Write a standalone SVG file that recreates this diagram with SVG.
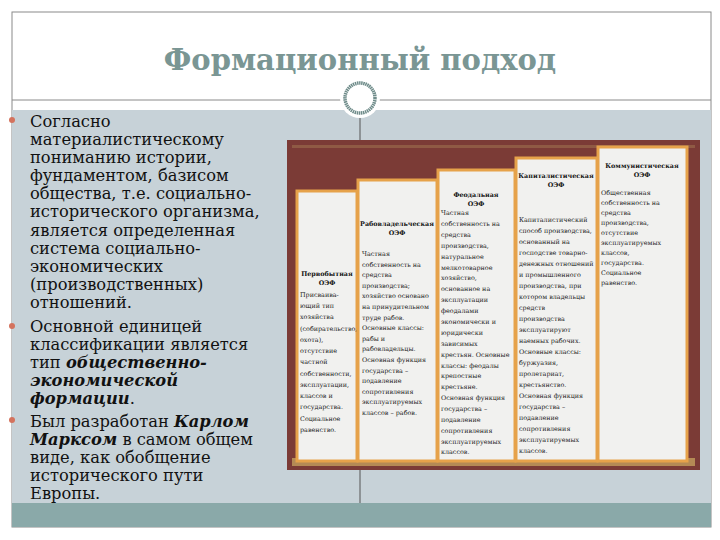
<svg xmlns="http://www.w3.org/2000/svg" width="720" height="540" viewBox="0 0 720 540">
<style>
.lt{font-family:"DejaVu Serif",serif;font-size:16.3px;fill:#111}
.bi{font-weight:bold;font-style:italic}
.ct{font-family:"DejaVu Serif",serif;font-size:6.4px;fill:#222}
.ch{font-family:"DejaVu Serif",serif;font-size:6.4px;fill:#111;font-weight:bold;text-anchor:middle}
.col{fill:#f1f1ef;stroke:#e6a24a;stroke-width:3}
.bul{fill:#d4735e}
</style>
<rect width="720" height="540" fill="#fff"/>
<g id="frame">
<rect x="12" y="12" width="699" height="515" fill="none" stroke="#8a8a8a" stroke-width="1"/>
<rect x="12" y="110" width="699" height="393" fill="#c7d2d8"/>
<rect x="12" y="503" width="699" height="24" fill="#8aa9a9"/>
<line x1="12" y1="100" x2="711" y2="100" stroke="#8a8a8a" stroke-width="1"/>
<line x1="360" y1="110" x2="360" y2="503" stroke="#555" stroke-width="1"/>
<circle cx="360" cy="98" r="20" fill="#fff"/>
<circle cx="360" cy="98" r="15" fill="#fff" stroke="#6f8c8a" stroke-width="3.5" stroke-dasharray="1.5 0.6"/>
</g>
<g id="title"><text x="360" y="70" text-anchor="middle" font-family="DejaVu Serif,serif" font-size="29" font-weight="bold" fill="#7a9694">Формационный подход</text></g>
<g id="bullets">
<circle class="bul" cx="12" cy="120" r="3"/><circle class="bul" cx="12" cy="326" r="3"/><circle class="bul" cx="12" cy="420" r="3"/>
<text class="lt" x="30"><tspan x="30" y="127">Согласно</tspan><tspan x="30" y="145">материалистическому</tspan><tspan x="30" y="163">пониманию истории,</tspan><tspan x="30" y="181">фундаментом, базисом</tspan><tspan x="30" y="199">общества, т.е. социально-</tspan><tspan x="30" y="217">исторического организма,</tspan><tspan x="30" y="236">является определенная</tspan><tspan x="30" y="254">система социально-</tspan><tspan x="30" y="272">экономических</tspan><tspan x="30" y="290">(производственных)</tspan><tspan x="30" y="308">отношений.</tspan>
<tspan x="30" y="332">Основной единицей</tspan><tspan x="30" y="350">классификации является</tspan><tspan x="30" y="368">тип <tspan class="bi">общественно-</tspan></tspan><tspan x="30" y="386" class="bi">экономической</tspan><tspan x="30" y="404"><tspan class="bi">формации</tspan>.</tspan>
<tspan x="30" y="427">Был разработан <tspan class="bi">Карлом</tspan></tspan><tspan x="30" y="445"><tspan class="bi">Марксом</tspan> в самом общем</tspan><tspan x="30" y="463">виде, как обобщение</tspan><tspan x="30" y="481">исторического пути</tspan><tspan x="30" y="499">Европы.</tspan></text>
</g>
<g id="picture">
<rect x="287" y="140" width="413" height="330" fill="#7b3b36"/>
<rect x="292" y="458" width="403" height="8" fill="#b48a55"/>
<rect x="292" y="145" width="403" height="3" fill="#8f5a44"/>
</g>
<g id="col1"><rect class="col" x="297" y="191" width="60" height="270"/>
<text class="ch"><tspan x="327" y="276">Первобытная</tspan><tspan x="327" y="285">ОЭФ</tspan></text>
<text class="ct"><tspan x="300" y="297">Присваива-</tspan><tspan x="300" y="308">ющий тип</tspan><tspan x="300" y="319">хозяйства</tspan><tspan x="300" y="331">(собирательство,</tspan><tspan x="300" y="342">охота),</tspan><tspan x="300" y="353">отсутствие</tspan><tspan x="300" y="364">частной</tspan><tspan x="300" y="376">собственности,</tspan><tspan x="300" y="387">эксплуатации,</tspan><tspan x="300" y="398">классов и</tspan><tspan x="300" y="409">государства.</tspan><tspan x="300" y="421">Социальное</tspan><tspan x="300" y="432">равенство.</tspan></text></g>
<g id="col2"><rect class="col" x="358" y="180" width="79" height="281"/>
<text class="ch"><tspan x="397" y="226">Рабовладельческая</tspan><tspan x="397" y="235">ОЭФ</tspan></text>
<text class="ct"><tspan x="362" y="256">Частная</tspan><tspan x="362" y="267">собственность на</tspan><tspan x="362" y="277">средства</tspan><tspan x="362" y="288">производства;</tspan><tspan x="362" y="298">хозяйство основано</tspan><tspan x="362" y="309">на принудительном</tspan><tspan x="362" y="320">труде рабов.</tspan><tspan x="362" y="330">Основные классы:</tspan><tspan x="362" y="341">рабы и</tspan><tspan x="362" y="351">рабовладельцы.</tspan><tspan x="362" y="362">Основная функция</tspan><tspan x="362" y="373">государства –</tspan><tspan x="362" y="383">подавление</tspan><tspan x="362" y="394">сопротивления</tspan><tspan x="362" y="404">эксплуатируемых</tspan><tspan x="362" y="415">классов – рабов.</tspan></text></g>
<g id="col3"><rect class="col" x="438" y="170" width="77" height="291"/>
<text class="ch"><tspan x="476" y="197">Феодальная</tspan><tspan x="476" y="206">ОЭФ</tspan></text>
<text class="ct"><tspan x="441" y="215">Частная</tspan><tspan x="441" y="226">собственность на</tspan><tspan x="441" y="237">средства</tspan><tspan x="441" y="248">производства,</tspan><tspan x="441" y="259">натуральное</tspan><tspan x="441" y="270">мелкотоварное</tspan><tspan x="441" y="280">хозяйство,</tspan><tspan x="441" y="291">основанное на</tspan><tspan x="441" y="302">эксплуатации</tspan><tspan x="441" y="313">феодалами</tspan><tspan x="441" y="324">экономически и</tspan><tspan x="441" y="335">юридически</tspan><tspan x="441" y="346">зависимых</tspan><tspan x="441" y="357">крестьян. Основные</tspan><tspan x="441" y="368">классы: феодалы</tspan><tspan x="441" y="378">крепостные</tspan><tspan x="441" y="389">крестьяне.</tspan><tspan x="441" y="400">Основная функция</tspan><tspan x="441" y="411">государства –</tspan><tspan x="441" y="422">подавление</tspan><tspan x="441" y="433">сопротивления</tspan><tspan x="441" y="444">эксплуатируемых</tspan><tspan x="441" y="454">классов.</tspan></text></g>
<g id="col4"><rect class="col" x="516" y="158" width="81" height="303"/>
<text class="ch"><tspan x="556" y="178">Капиталистическая</tspan><tspan x="556" y="187">ОЭФ</tspan></text>
<text class="ct"><tspan x="519" y="222">Капиталистический</tspan><tspan x="519" y="233">способ производства,</tspan><tspan x="519" y="244">основанный на</tspan><tspan x="519" y="255">господстве товарно-</tspan><tspan x="519" y="266">денежных отношений</tspan><tspan x="519" y="277">и промышленного</tspan><tspan x="519" y="288">производства, при</tspan><tspan x="519" y="299">котором владельцы</tspan><tspan x="519" y="310">средств</tspan><tspan x="519" y="321">производства</tspan><tspan x="519" y="332">эксплуатируют</tspan><tspan x="519" y="343">наемных рабочих.</tspan><tspan x="519" y="354">Основные классы:</tspan><tspan x="519" y="365">буржуазия,</tspan><tspan x="519" y="376">пролетариат,</tspan><tspan x="519" y="387">крестьянство.</tspan><tspan x="519" y="398">Основная функция</tspan><tspan x="519" y="409">государства –</tspan><tspan x="519" y="420">подавление</tspan><tspan x="519" y="431">сопротивления</tspan><tspan x="519" y="442">эксплуатируемых</tspan><tspan x="519" y="453">классов.</tspan></text></g>
<g id="col5"><rect class="col" x="598" y="147" width="89" height="314"/>
<text class="ch"><tspan x="642" y="168">Коммунистическая</tspan><tspan x="642" y="177">ОЭФ</tspan></text>
<text class="ct"><tspan x="601" y="195">Общественная</tspan><tspan x="601" y="205">собственность на</tspan><tspan x="601" y="215">средства</tspan><tspan x="601" y="225">производства,</tspan><tspan x="601" y="235">отсутствие</tspan><tspan x="601" y="245">эксплуатируемых</tspan><tspan x="601" y="255">классов,</tspan><tspan x="601" y="265">государства.</tspan><tspan x="601" y="275">Социальное</tspan><tspan x="601" y="285">равенство.</tspan></text></g>
</svg>
